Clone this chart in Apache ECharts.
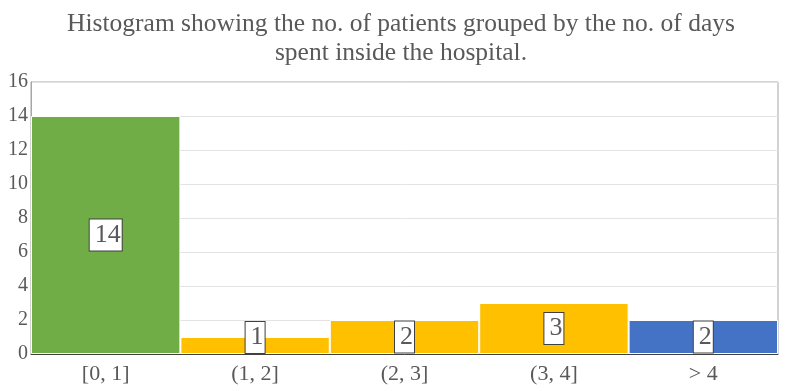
<!DOCTYPE html>
<html><head><meta charset="utf-8">
<script src="https://cdn.jsdelivr.net/npm/echarts@6/dist/echarts.min.js"></script>
<style>html,body{margin:0;padding:0;background:#fff}#c{width:792px;height:391px}</style>
</head><body><div id="c"></div>
<script>
const titleText = "Histogram showing the no. of patients grouped by the no. of days\nspent inside the hospital.";
const categories = ["[0, 1]", "(1, 2]", "(2, 3]", "(3, 4]", "> 4"];
const counts = [14, 1, 2, 3, 2];
const barColors = ["#70AD47", "#FFC000", "#FFC000", "#FFC000", "#4472C4"];
const yTicks = [0, 2, 4, 6, 8, 10, 12, 14, 16];

const serif = "'Liberation Serif', 'Times New Roman', serif";
const chart = echarts.init(document.getElementById('c'), null, {renderer: 'canvas'});
chart.setOption({
  animation: false,
  title: {
    text: titleText, left: 396, textAlign: 'center', top: 5,
    textStyle: {fontFamily: serif, fontSize: 25.5, fontWeight: 'normal', color: '#595959', lineHeight: 29}
  },
  grid: {left: 31, right: 14, top: 82, bottom: 37, show: true, borderColor: '#A6A6A6', borderWidth: 1},
  xAxis: {
    type: 'category', data: categories,
    axisLine: {lineStyle: {color: '#404040', width: 1}},
    axisTick: {show: false},
    axisLabel: {fontFamily: serif, fontSize: 22, color: '#595959', margin: 9}
  },
  yAxis: {
    type: 'value', min: yTicks[0], max: yTicks[yTicks.length - 1], interval: 2,
    axisLine: {show: true, lineStyle: {color: '#A6A6A6'}},
    axisTick: {show: false},
    splitLine: {lineStyle: {color: '#E3E3E3'}},
    axisLabel: {fontFamily: serif, fontSize: 20, color: '#595959', margin: 3}
  },
  series: [{
    type: 'bar', barCategoryGap: 0,
    data: counts.map((v, i) => ({
      value: v,
      itemStyle: {color: barColors[i]},
      label: v < 2 ? {offset: [0, -8]} : undefined
    })),
    itemStyle: {borderColor: '#ffffff', borderWidth: 1},
    label: {
      show: true, position: 'inside',
      fontFamily: serif, fontSize: 26, color: '#595959', lineHeight: 30,
      backgroundColor: '#ffffff', borderColor: '#404040', borderWidth: 1,
      padding: [1, 1, 0, 5]
    }
  }]
});
</script></body></html>
